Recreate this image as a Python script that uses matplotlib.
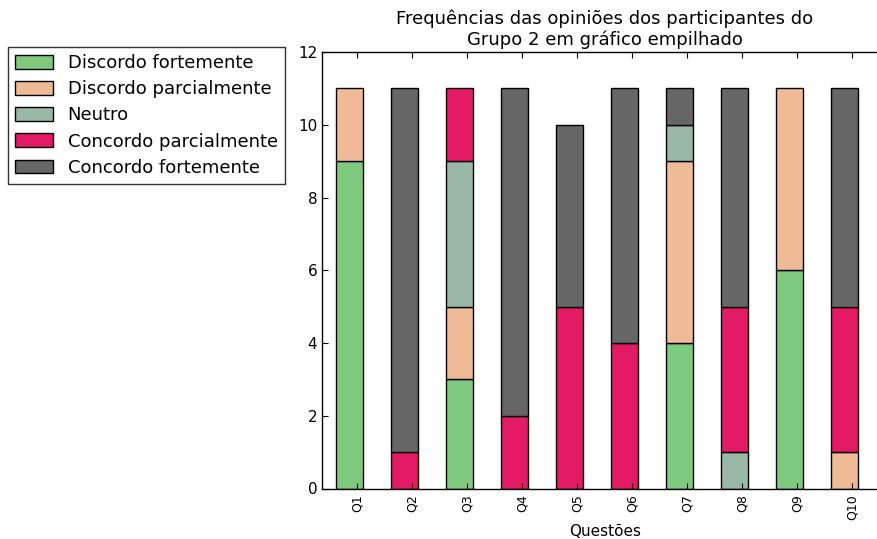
import matplotlib
matplotlib.use('Agg')
import matplotlib.pyplot as plt
import numpy as np

questoes = ['Q1', 'Q2', 'Q3', 'Q4', 'Q5', 'Q6', 'Q7', 'Q8', 'Q9', 'Q10']
categorias = ['Discordo fortemente', 'Discordo parcialmente', 'Neutro',
              'Concordo parcialmente', 'Concordo fortemente']
discordo_fortemente = [9, 0, 3, 0, 0, 0, 4, 0, 6, 0]
discordo_parcialmente = [2, 0, 2, 0, 0, 0, 5, 0, 5, 1]
neutro = [0, 0, 4, 0, 0, 0, 1, 1, 0, 0]
concordo_parcialmente = [0, 1, 2, 2, 5, 4, 0, 4, 0, 4]
concordo_fortemente = [0, 10, 0, 9, 5, 7, 1, 6, 0, 6]
cores = ['#7fc97f', '#efbb96', '#9ab8a6', '#e31a64', '#666666']

series = [discordo_fortemente, discordo_parcialmente, neutro,
          concordo_parcialmente, concordo_fortemente]

fig = plt.figure(figsize=(8.77, 5.39), dpi=100)
ax = fig.add_axes([322/877, (539-488.5)/539, 566/877, (488.5-52)/539])

x = np.arange(len(questoes))
base = np.zeros(len(questoes))
for nome, valores, cor in zip(categorias, series, cores):
    valores = np.array(valores, dtype=float)
    # segmentos vazios nao sao desenhados (evita borda duplicada no topo)
    alturas = np.where(valores > 0, valores, np.nan)
    ax.bar(x, alturas, 0.5, bottom=base, color=cor, edgecolor='black',
           linewidth=1.0, label=nome)
    base += valores

ax.set_xlim(-0.5, 9.79)
ax.set_ylim(0, 12)
ax.set_yticks(range(0, 13, 2))
ax.set_xticks(x + 0.135)
ax.set_xticklabels(questoes, rotation=90, fontsize=9)
ax.tick_params(axis='y', direction='in', length=4, labelsize=11, left=True, right=False)
ax.tick_params(axis='x', direction='in', length=4, top=True, bottom=True, pad=4)
ax.spines['right'].set_visible(False)
for s in ax.spines.values():
    s.set_linewidth(1.0)

ax.set_title('Frequências das opiniões dos participantes do\nGrupo 2 em gráfico empilhado',
             fontsize=13, pad=5, linespacing=1.15)
ax.set_xlabel('Questões', fontsize=11, labelpad=3)

leg = fig.legend(loc='upper left', bbox_to_anchor=(8/877, 1 - 47/539),
                 fontsize=13, fancybox=False, frameon=True, edgecolor='black',
                 handlelength=2.1, handleheight=0.8, borderpad=0.4,
                 labelspacing=0.45, handletextpad=0.8, borderaxespad=0)
leg.get_frame().set_linewidth(1.0)

fig.savefig('out.png', dpi=100)
